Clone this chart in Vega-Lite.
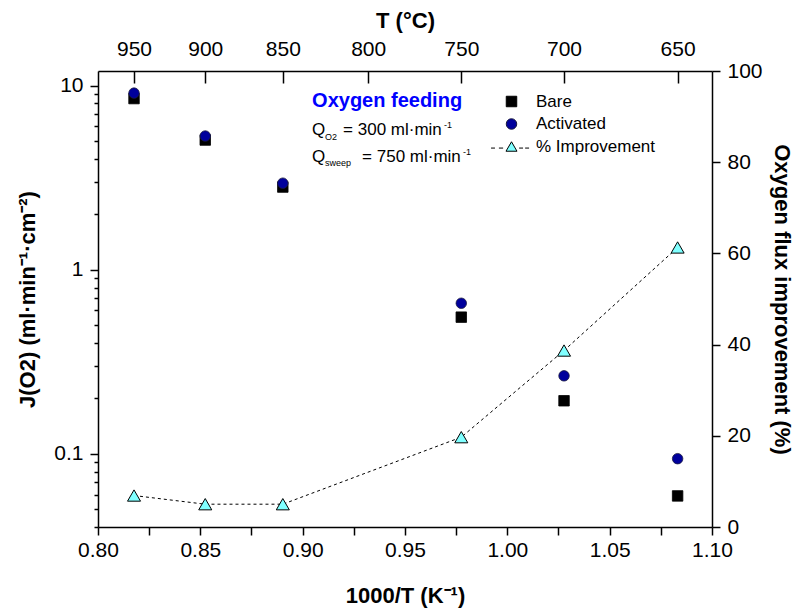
{
  "$schema": "https://vega.github.io/schema/vega-lite/v6.json",
  "width": 614,
  "height": 456,
  "autosize": {"type": "none"},
  "padding": {"left": 98, "top": 71, "right": 84, "bottom": 85},
  "background": "white",
  "config": {
    "font": "Liberation Sans",
    "view": {"stroke": null},
    "axis": {
      "domainColor": "black", "domainWidth": 1.5,
      "tickColor": "black", "tickWidth": 1.5,
      "labelColor": "black", "titleColor": "black",
      "labelFont": "Liberation Sans", "labelFontSize": 21,
      "titleFont": "Liberation Sans", "titleFontSize": 22, "titleFontWeight": "bold",
      "grid": false, "labelPadding": 4, "labelFlush": false, "labelOverlap": false
    },
    "legend": {
      "labelFont": "Liberation Sans", "labelFontSize": 17, "labelColor": "black",
      "symbolStrokeWidth": 1, "symbolSize": 110,
      "rowPadding": 4.5, "labelOffset": 16, "padding": 0
    }
  },
  "datasets": {
    "flux": [
      {"invT": 0.8176, "series": "Bare", "J": 8.5},
      {"invT": 0.8524, "series": "Bare", "J": 5.06},
      {"invT": 0.8903, "series": "Bare", "J": 2.81},
      {"invT": 0.9775, "series": "Bare", "J": 0.552},
      {"invT": 1.0277, "series": "Bare", "J": 0.194},
      {"invT": 1.0832, "series": "Bare", "J": 0.059},
      {"invT": 0.8176, "series": "Activated", "J": 9.1},
      {"invT": 0.8524, "series": "Activated", "J": 5.32},
      {"invT": 0.8903, "series": "Activated", "J": 2.95},
      {"invT": 0.9775, "series": "Activated", "J": 0.657},
      {"invT": 1.0277, "series": "Activated", "J": 0.265},
      {"invT": 1.0832, "series": "Activated", "J": 0.094}
    ],
    "pct": [
      {"invT": 0.8176, "improvement": 6.9},
      {"invT": 0.8524, "improvement": 5.0},
      {"invT": 0.8903, "improvement": 5.0},
      {"invT": 0.9775, "improvement": 19.7},
      {"invT": 1.0277, "improvement": 38.7},
      {"invT": 1.0832, "improvement": 61.3}
    ]
  },
  "layer": [
    {
      "data": {"name": "flux"},
      "mark": {"type": "point", "filled": true, "size": 110, "strokeWidth": 0.8, "opacity": 1},
      "encoding": {
        "x": {
          "field": "invT", "type": "quantitative",
          "scale": {"domain": [0.8, 1.1], "nice": false, "zero": false},
          "axis": {
            "orient": "bottom", "title": "1000/T (K⁻¹)",
            "values": [0.8, 0.825, 0.85, 0.875, 0.9, 0.925, 0.95, 0.975, 1.0, 1.025, 1.05, 1.075, 1.1],
            "labelExpr": "abs(datum.value*20 - round(datum.value*20)) < 0.001 ? format(datum.value, '.2f') : ''",
            "tickSize": 8, "titlePadding": 25
          }
        },
        "y": {
          "field": "J", "type": "quantitative",
          "scale": {"type": "log", "domain": [0.04, 12], "nice": false},
          "axis": {
            "orient": "left", "title": "J(O2) (ml·min⁻¹·cm⁻²)",
            "values": [0.04, 0.05, 0.06, 0.07, 0.08, 0.09, 0.1, 0.2, 0.3, 0.4, 0.5, 0.6, 0.7, 0.8, 0.9, 1, 2, 3, 4, 5, 6, 7, 8, 9, 10],
            "labelExpr": "datum.value == 0.1 ? '0.1' : datum.value == 1 ? '1' : datum.value == 10 ? '10' : ''",
            "tickSize": {"condition": {"test": "datum.value == 0.1 || datum.value == 1 || datum.value == 10", "value": 8}, "value": 4},
            "labelPadding": 7, "titlePadding": 14
          }
        },
        "shape": {
          "field": "series", "type": "nominal",
          "scale": {"domain": ["Bare", "Activated", "% Improvement"], "range": ["square", "circle", "M-1.05,0.9L0,-0.9L1.05,0.9Z M-3.9,0.3L-3.15,0.3 M-2.4,0.3L-1.6,0.3 M1.45,0.3L2.2,0.3 M2.6,0.3L3.35,0.3"]},
          "legend": {"title": null, "orient": "none", "legendX": 405, "legendY": 22}
        },
        "fill": {
          "field": "series", "type": "nominal",
          "scale": {"domain": ["Bare", "Activated", "% Improvement"], "range": ["#000000", "#00009C", "#80FFFF"]},
          "legend": {"title": null, "orient": "none", "legendX": 405, "legendY": 22}
        },
        "stroke": {
          "field": "series", "type": "nominal",
          "scale": {"domain": ["Bare", "Activated", "% Improvement"], "range": ["#000000", "#1a1a40", "#000000"]},
          "legend": {"title": null, "orient": "none", "legendX": 405, "legendY": 22}
        }
      }
    },
    {
      "data": {"name": "pct"},
      "encoding": {
        "x": {
          "field": "invT", "type": "quantitative",
          "scale": {"domain": [0.8, 1.1], "nice": false, "zero": false},
          "axis": {
            "orient": "top", "title": "T (°C)",
            "values": [0.8176, 0.8524, 0.8903, 0.932, 0.9775, 1.0277, 1.0832],
            "labelExpr": "format(1000/datum.value - 273.15, '.0f')",
            "tickSize": -12, "labelPadding": 24, "titlePadding": 6
          }
        },
        "y": {
          "field": "improvement", "type": "quantitative",
          "scale": {"domain": [0, 100], "nice": false, "zero": false},
          "axis": {
            "orient": "right", "title": "Oxygen flux improvement (%)",
            "values": [0, 20, 40, 60, 80, 100],
            "tickSize": 8, "labelPadding": 7, "titlePadding": 7
          }
        }
      },
      "layer": [
        {"mark": {"type": "line", "color": "black", "strokeWidth": 1, "strokeDash": [3, 3]}},
        {"mark": {"type": "point", "shape": "triangle-up", "filled": true, "fill": "#80FFFF", "stroke": "black", "strokeWidth": 1, "size": 170, "opacity": 1}}
      ]
    },
    {
      "data": {"values": [{}]},
      "encoding": {
        "x": {"datum": 0.9046, "type": "quantitative", "scale": {"domain": [0.8, 1.1], "nice": false, "zero": false}, "axis": null}
      },
      "layer": [
        {"mark": {"type": "text", "text": "Oxygen feeding", "align": "left", "baseline": "alphabetic", "fontSize": 20, "fontWeight": "bold", "color": "#0000FF"},
         "encoding": {"y": {"datum": 92, "type": "quantitative", "scale": {"domain": [0, 100], "nice": false}, "axis": null}}},
        {"mark": {"type": "text", "text": "Q", "align": "left", "baseline": "alphabetic", "fontSize": 17, "color": "black"},
         "encoding": {"y": {"datum": 86, "type": "quantitative", "scale": {"domain": [0, 100], "nice": false}, "axis": null}}},
        {"mark": {"type": "text", "text": "O2", "align": "left", "baseline": "alphabetic", "fontSize": 9, "dx": 13, "dy": 5, "color": "black"},
         "encoding": {"y": {"datum": 86, "type": "quantitative", "scale": {"domain": [0, 100], "nice": false}, "axis": null}}},
        {"mark": {"type": "text", "text": "= 300 ml·min", "align": "left", "baseline": "alphabetic", "fontSize": 17, "dx": 31, "color": "black"},
         "encoding": {"y": {"datum": 86, "type": "quantitative", "scale": {"domain": [0, 100], "nice": false}, "axis": null}}},
        {"mark": {"type": "text", "text": "-1", "align": "left", "baseline": "alphabetic", "fontSize": 9, "dx": 132, "dy": -7, "color": "black"},
         "encoding": {"y": {"datum": 86, "type": "quantitative", "scale": {"domain": [0, 100], "nice": false}, "axis": null}}},
        {"mark": {"type": "text", "text": "Q", "align": "left", "baseline": "alphabetic", "fontSize": 17, "color": "black"},
         "encoding": {"y": {"datum": 80, "type": "quantitative", "scale": {"domain": [0, 100], "nice": false}, "axis": null}}},
        {"mark": {"type": "text", "text": "sweep", "align": "left", "baseline": "alphabetic", "fontSize": 9, "dx": 13, "dy": 4, "color": "black"},
         "encoding": {"y": {"datum": 80, "type": "quantitative", "scale": {"domain": [0, 100], "nice": false}, "axis": null}}},
        {"mark": {"type": "text", "text": "= 750 ml·min", "align": "left", "baseline": "alphabetic", "fontSize": 17, "dx": 50, "color": "black"},
         "encoding": {"y": {"datum": 80, "type": "quantitative", "scale": {"domain": [0, 100], "nice": false}, "axis": null}}},
        {"mark": {"type": "text", "text": "-1", "align": "left", "baseline": "alphabetic", "fontSize": 9, "dx": 151, "dy": -7, "color": "black"},
         "encoding": {"y": {"datum": 80, "type": "quantitative", "scale": {"domain": [0, 100], "nice": false}, "axis": null}}}
      ]
    }
  ],
  "resolve": {"scale": {"x": "independent", "y": "independent"}}
}
